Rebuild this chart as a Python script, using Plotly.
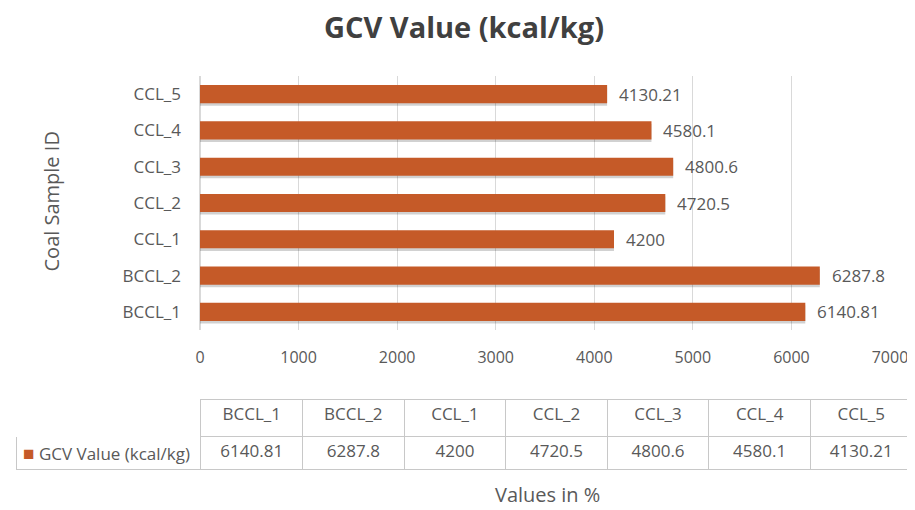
import plotly.graph_objects as go

categories = ["BCCL_1", "BCCL_2", "CCL_1", "CCL_2", "CCL_3", "CCL_4", "CCL_5"]
gcv_values = [6140.81, 6287.8, 4200, 4720.5, 4800.6, 4580.1, 4130.21]
series_name = "GCV Value (kcal/kg)"
x_ticks = [0, 1000, 2000, 3000, 4000, 5000, 6000, 7000]

# page body has an 8px margin; figure sized to fill the rest of the window
OFF = 8
W, H = 915 - OFF, 510 - OFF
BAR = "#C55A28"
TXT = "#595959"
FONT = "Open Sans"


def px(x):
    return (x - OFF) / W


def py(y):
    return 1 - (y - OFF) / H


fig = go.Figure()

# soft shadow under bars
fig.add_trace(go.Bar(
    y=categories, x=gcv_values, orientation="h",
    marker=dict(color="rgba(0,0,0,0.18)", line=dict(width=0)),
    width=0.5, offset=-0.32, hoverinfo="skip", showlegend=False,
))
fig.add_trace(go.Bar(
    y=categories, x=gcv_values, orientation="h", name=series_name,
    marker=dict(color=BAR, line=dict(width=0)),
    width=0.5, offset=-0.25, showlegend=False,
))

for c, v in zip(categories, gcv_values):
    fig.add_annotation(x=v, y=c, xref="x", yref="y", text=str(v),
                       showarrow=False, xanchor="left", xshift=10,
                       font=dict(family=FONT, size=17, color=TXT))

# data table
header_vals = [""] + categories
cell_vals = [[""]] + [[str(v)] for v in gcv_values]
colw = [185] + [101.6] * len(categories)
fig.add_trace(go.Table(
    domain=dict(x=[px(16), px(912)], y=[py(472), py(399)]),
    columnwidth=colw,
    header=dict(values=header_vals, height=37, align="center",
                fill=dict(color="white"),
                line=dict(color=["white"] + ["#C8C8C8"] * len(categories), width=1),
                font=dict(family=FONT, size=17, color=TXT)),
    cells=dict(values=cell_vals, height=33,
               align=["left"] + ["center"] * len(categories),
               fill=dict(color="white"),
               line=dict(color="#C8C8C8", width=1),
               font=dict(family=FONT, size=17, color=TXT)),
))
fig.add_annotation(x=px(21), y=py(453), xref="paper", yref="paper",
                   xanchor="left", yanchor="middle", showarrow=False,
                   text=f"<span style='color:{BAR};font-size:19px'>■</span> {series_name}",
                   font=dict(family=FONT, size=17, color=TXT))

fig.add_annotation(x=px(35), y=py(202), xref="paper", yref="paper",
                   text="Coal Sample ID", textangle=-90, showarrow=False,
                   font=dict(family=FONT, size=20, color=TXT))
fig.add_annotation(x=px(547), y=py(509), xref="paper", yref="paper",
                   yanchor="bottom", borderpad=0,
                   text="Values in %", showarrow=False,
                   font=dict(family=FONT, size=20, color=TXT))

fig.update_layout(
    width=W, height=H,
    margin=dict(l=0, r=0, t=0, b=0),
    paper_bgcolor="white", plot_bgcolor="white",
    barmode="overlay",
    title=dict(text="<b>GCV Value (kcal/kg)</b>", x=px(464), xanchor="center",
               y=py(28), yanchor="middle", yref="container",
               font=dict(family=FONT, size=29, color="#404040")),
    xaxis=dict(domain=[px(200), px(890)], range=[0, 7000], tickvals=x_ticks,
               showgrid=True, gridcolor="#D9D9D9", gridwidth=1,
               zeroline=True, zerolinecolor="#D9D9D9", showline=False,
               ticks="", ticklabelstandoff=16, automargin=False,
               tickfont=dict(family=FONT, size=16, color=TXT), fixedrange=True),
    yaxis=dict(domain=[py(330), py(76)], categoryorder="array",
               categoryarray=categories, showgrid=False, zeroline=False,
               showline=False, ticks="", ticklabelstandoff=18, automargin=False,
               tickfont=dict(family=FONT, size=17, color=TXT), fixedrange=True),
    font=dict(family=FONT, color=TXT),
)

fig.write_html("out.html")
